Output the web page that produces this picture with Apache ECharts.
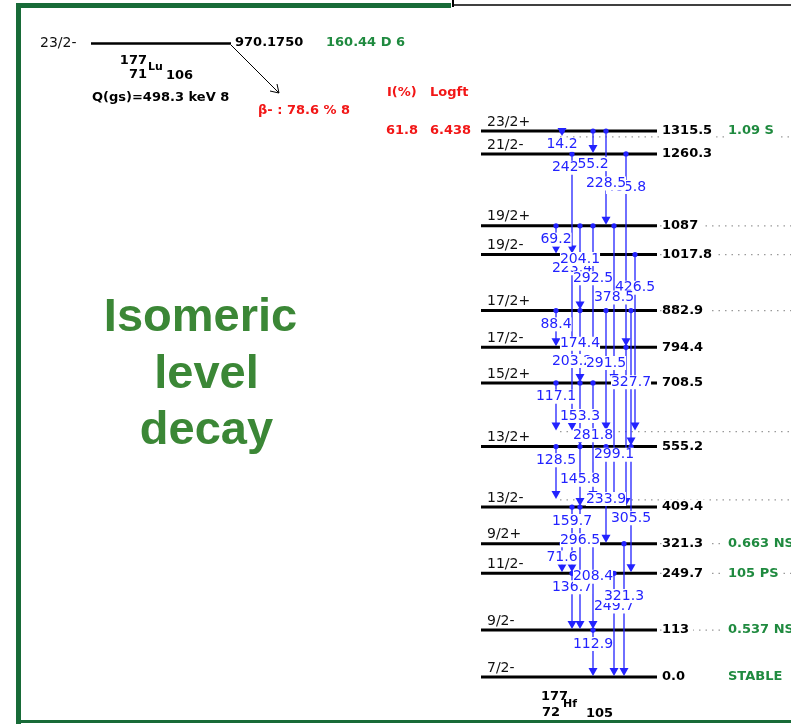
<!DOCTYPE html>
<html>
<head>
<meta charset="utf-8">
<script src="https://cdn.jsdelivr.net/npm/echarts/dist/echarts.min.js"></script>
<style>
  html, body { margin: 0; padding: 0; background: #fff; }
  #chart { width: 791px; height: 724px; }
</style>
</head>
<body>
<div id="chart"></div>
<script>
// levels of 177Hf (keV)
const levelEnergy = [0, 113, 249.7, 321.3, 409.4, 555.2, 708.5, 794.4, 882.9, 1017.8, 1087, 1260.3, 1315.5]
const levelText = ['0.0', '113', '249.7', '321.3', '409.4', '555.2', '708.5', '794.4', '882.9', '1017.8', '1087', '1260.3', '1315.5']
const levelSpin = ['7/2-', '9/2-', '11/2-', '9/2+', '13/2-', '13/2+', '15/2+', '17/2-', '17/2+', '19/2-', '19/2+', '21/2-', '23/2+']
const levelHalfLife = ['STABLE', '0.537 NS', '105 PS', '0.663 NS', '', '', '', '', '', '', '', '', '1.09 S']
const levelLeader = [false, true, true, true, false, false, false, false, true, true, true, false, false]
// levels not drawn, only dotted
const hiddenLevels = [426.7, 591.2, 1301.3]

// gamma transitions
const gammaLabel = ['14.2', '55.2', '228.5', '242.5', '465.8', '69.2', '204.1', '292.5', '378.5', '223.4', '426.5',
  '88.4', '174.4', '291.5', '327.7', '203.2', '', '117.1', '153.3', '281.8', '299.1',
  '128.5', '145.8', '233.9', '305.5', '159.7', '296.5', '71.6', '208.4', '321.3', '136.7', '249.7', '112.9']
const gammaFrom = [1315.5, 1315.5, 1315.5, 1260.3, 1260.3, 1087, 1087, 1087, 1087, 1017.8, 1017.8,
  882.9, 882.9, 882.9, 882.9, 794.4, 794.4, 708.5, 708.5, 708.5, 708.5,
  555.2, 555.2, 555.2, 555.2, 409.4, 409.4, 321.3, 321.3, 321.3, 249.7, 249.7, 113]
const gammaTo = [1301.3, 1260.3, 1087, 1017.8, 794.4, 1017.8, 882.9, 794.4, 708.5, 794.4, 591.2,
  794.4, 708.5, 591.2, 555.2, 591.2, 409.4, 591.2, 555.2, 426.7, 409.4,
  426.7, 409.4, 321.3, 249.7, 249.7, 113, 249.7, 113, 0, 113, 0, 0]
// horizontal column of each arrow
const gammaColumn = [562, 593, 606, 572, 626, 556, 580, 593, 614, 572, 635,
  556, 580, 606, 631, 572, 626, 556, 580, 593, 614,
  556, 580, 606, 631, 572, 580, 562, 593, 624, 572, 614, 593]

const BLUE = '#2323ff'
const GREEN = '#1f8a3f'
const RED = '#f21616'
const BORDER = '#186b38'
const FONT = '"DejaVu Sans", Verdana, sans-serif'
const X0 = 481
const X1 = 657
const KEV_PX = 0.41505

// label slot = order among transitions leaving the same level
const gammaSlot = gammaLabel.map((l, i) =>
  gammaFrom.filter((f, j) => f === gammaFrom[i] && gammaColumn[j] < gammaColumn[i]).length)

const gammaData = gammaLabel.map((l, i) => [gammaColumn[i], gammaFrom[i], gammaTo[i], i])
// labels of higher levels drawn on top
const labelData = gammaData.slice().sort((a, b) => a[1] - b[1] || a[0] - b[0])

const myChart = echarts.init(document.getElementById('chart'))

const option = {
  animation: false,
  backgroundColor: '#fff',
  grid: { left: 0, right: 0, bottom: 47, top: 677 - 1600 * KEV_PX },
  xAxis: { type: 'value', min: 0, max: 791, show: false },
  yAxis: { type: 'value', min: 0, max: 1600, show: false },
  series: [
    {
      // dotted lines: hidden levels
      type: 'custom',
      z: 1,
      data: hiddenLevels.map(e => [560, e]),
      renderItem: (params, api) => {
        const a = api.coord([api.value(0), api.value(1)])
        return {
          type: 'line',
          shape: { x1: a[0], y1: a[1], x2: 791, y2: a[1] },
          style: { stroke: '#9a9a9a', lineWidth: 1.3, lineDash: [1.5, 5] }
        }
      }
    },
    {
      // leaders to half-life column
      type: 'custom',
      z: 1,
      data: levelEnergy.map((e, i) => [X1 + 3, e, levelLeader[i] ? 1 : 0]),
      renderItem: (params, api) => {
        if (!api.value(2)) return
        const a = api.coord([api.value(0), api.value(1)])
        return {
          type: 'line',
          shape: { x1: a[0], y1: a[1], x2: 791, y2: a[1] },
          style: { stroke: '#9a9a9a', lineWidth: 1.3, lineDash: [1.5, 5] }
        }
      }
    },
    {
      // level lines
      type: 'custom',
      z: 2,
      data: levelEnergy.map(e => [X0, e]),
      renderItem: (params, api) => {
        const a = api.coord([X0, api.value(1)])
        const b = api.coord([X1, api.value(1)])
        return {
          type: 'line',
          shape: { x1: a[0], y1: a[1], x2: b[0], y2: b[1] },
          style: { stroke: '#000', lineWidth: 3 }
        }
      }
    },
    {
      // gamma arrows
      type: 'custom',
      z: 3,
      data: gammaData,
      renderItem: (params, api) => {
        const a = api.coord([api.value(0), api.value(1)])
        const b = api.coord([api.value(0), api.value(2)])
        const tip = b[1] - 1
        return {
          type: 'group',
          children: [
            {
              type: 'line',
              shape: { x1: a[0], y1: a[1], x2: b[0], y2: tip - 6 },
              style: { stroke: BLUE, lineWidth: 1.3 }
            },
            {
              type: 'polygon',
              shape: { points: [[b[0] - 4.5, tip - 8], [b[0] + 4.5, tip - 8], [b[0], tip]] },
              style: { fill: BLUE }
            },
            {
              type: 'circle',
              shape: { cx: a[0], cy: a[1], r: 2.6 },
              style: { fill: BLUE }
            }
          ]
        }
      }
    },
    {
      // gamma energy labels
      type: 'custom',
      z: 4,
      data: labelData,
      renderItem: (params, api) => {
        const i = api.value(3)
        if (!gammaLabel[i]) return
        const a = api.coord([api.value(0), api.value(1)])
        return {
          type: 'text',
          x: a[0],
          y: a[1] + 13.8 + 19.3 * gammaSlot[i],
          style: {
            text: gammaLabel[i],
            font: '14px ' + FONT,
            fill: BLUE,
            align: 'center',
            verticalAlign: 'middle',
            backgroundColor: '#fff',
            padding: [0, 0]
          }
        }
      }
    },
    {
      // spin, energy and half-life texts
      type: 'custom',
      z: 5,
      data: levelEnergy.map((e, i) => [X0, e, i]),
      renderItem: (params, api) => {
        const i = api.value(2)
        const a = api.coord([X0, api.value(1)])
        const b = api.coord([X1, api.value(1)])
        const children = [
          {
            type: 'text',
            x: a[0] + 6,
            y: a[1] - 2,
            style: {
              text: levelSpin[i], font: '14px ' + FONT, fill: '#111',
              align: 'left', verticalAlign: 'bottom'
            }
          },
          {
            type: 'text',
            x: b[0] + 5,
            y: a[1],
            style: {
              text: levelText[i], font: 'bold 13px ' + FONT, fill: '#000',
              align: 'left', verticalAlign: 'middle',
              backgroundColor: '#fff', padding: [1, 4, 1, 0]
            }
          }
        ]
        if (levelHalfLife[i]) {
          children.push({
            type: 'text',
            x: 724,
            y: a[1],
            style: {
              text: levelHalfLife[i], font: 'bold 13px ' + FONT, fill: GREEN,
              align: 'left', verticalAlign: 'middle',
              backgroundColor: '#fff', padding: [1, 4, 1, 4]
            }
          })
        }
        return { type: 'group', children: children }
      }
    }
  ],
  graphic: [
    // frame
    { type: 'line', shape: { x1: 16, y1: 5.5, x2: 451, y2: 5.5 }, style: { stroke: BORDER, lineWidth: 5 } },
    { type: 'line', shape: { x1: 18.5, y1: 3, x2: 18.5, y2: 724 }, style: { stroke: BORDER, lineWidth: 5 } },
    { type: 'line', shape: { x1: 16, y1: 721.5, x2: 791, y2: 721.5 }, style: { stroke: BORDER, lineWidth: 3 } },
    { type: 'line', shape: { x1: 453, y1: 0, x2: 453, y2: 7 }, style: { stroke: '#000', lineWidth: 2 } },
    { type: 'line', shape: { x1: 453, y1: 5, x2: 791, y2: 5 }, style: { stroke: '#000', lineWidth: 1.5 } },

    // parent level
    { type: 'text', x: 40, y: 43, style: { text: '23/2-', font: '14px ' + FONT, fill: '#111', align: 'left', verticalAlign: 'middle' } },
    { type: 'line', shape: { x1: 91, y1: 43.5, x2: 231, y2: 43.5 }, style: { stroke: '#000', lineWidth: 2.5 } },
    { type: 'text', x: 235, y: 43, style: { text: '970.1750', font: 'bold 13px ' + FONT, fill: '#000', align: 'left', verticalAlign: 'middle' } },
    { type: 'text', x: 326, y: 43, style: { text: '160.44 D 6', font: 'bold 13px ' + FONT, fill: GREEN, align: 'left', verticalAlign: 'middle' } },
    { type: 'text', x: 147, y: 61, style: { text: '177', font: 'bold 13px ' + FONT, fill: '#000', align: 'right', verticalAlign: 'middle' } },
    { type: 'text', x: 147, y: 75, style: { text: '71', font: 'bold 13px ' + FONT, fill: '#000', align: 'right', verticalAlign: 'middle' } },
    { type: 'text', x: 148, y: 67, style: { text: 'Lu', font: 'bold 11px ' + FONT, fill: '#000', align: 'left', verticalAlign: 'middle' } },
    { type: 'text', x: 166, y: 76, style: { text: '106', font: 'bold 13px ' + FONT, fill: '#000', align: 'left', verticalAlign: 'middle' } },
    { type: 'text', x: 92, y: 98, style: { text: 'Q(gs)=498.3 keV 8', font: 'bold 13px ' + FONT, fill: '#000', align: 'left', verticalAlign: 'middle' } },
    { type: 'line', shape: { x1: 231, y1: 45, x2: 279, y2: 93 }, style: { stroke: '#000', lineWidth: 1 } },
    { type: 'polyline', shape: { points: [[270, 91], [279, 93], [277, 84]] }, style: { stroke: '#000', lineWidth: 1, fill: null } },
    { type: 'text', x: 258, y: 111, style: { text: 'β- : 78.6 % 8', font: 'bold 13px ' + FONT, fill: RED, align: 'left', verticalAlign: 'middle' } },
    { type: 'text', x: 387, y: 93, style: { text: 'I(%)', font: 'bold 13px ' + FONT, fill: RED, align: 'left', verticalAlign: 'middle' } },
    { type: 'text', x: 430, y: 93, style: { text: 'Logft', font: 'bold 13px ' + FONT, fill: RED, align: 'left', verticalAlign: 'middle' } },
    { type: 'text', x: 386, y: 131, style: { text: '61.8', font: 'bold 13px ' + FONT, fill: RED, align: 'left', verticalAlign: 'middle' } },
    { type: 'text', x: 430, y: 131, style: { text: '6.438', font: 'bold 13px ' + FONT, fill: RED, align: 'left', verticalAlign: 'middle' } },

    // daughter nuclide
    { type: 'text', x: 541, y: 697, style: { text: '177', font: 'bold 13px ' + FONT, fill: '#000', align: 'left', verticalAlign: 'middle' } },
    { type: 'text', x: 542, y: 713, style: { text: '72', font: 'bold 13px ' + FONT, fill: '#000', align: 'left', verticalAlign: 'middle' } },
    { type: 'text', x: 563, y: 704, style: { text: 'Hf', font: 'bold 11px ' + FONT, fill: '#000', align: 'left', verticalAlign: 'middle' } },
    { type: 'text', x: 586, y: 714, style: { text: '105', font: 'bold 13px ' + FONT, fill: '#000', align: 'left', verticalAlign: 'middle' } },

    // title
    { type: 'text', x: 200.5, y: 318.5, style: { text: 'Isomeric', font: 'bold 47px "Liberation Sans", Arial, sans-serif', fill: '#3b8736', align: 'center', verticalAlign: 'middle' } },
    { type: 'text', x: 206.5, y: 375.5, style: { text: 'level', font: 'bold 47px "Liberation Sans", Arial, sans-serif', fill: '#3b8736', align: 'center', verticalAlign: 'middle' } },
    { type: 'text', x: 206.5, y: 431.5, style: { text: 'decay', font: 'bold 47px "Liberation Sans", Arial, sans-serif', fill: '#3b8736', align: 'center', verticalAlign: 'middle' } }
  ]
}

myChart.setOption(option)
</script>
</body>
</html>
